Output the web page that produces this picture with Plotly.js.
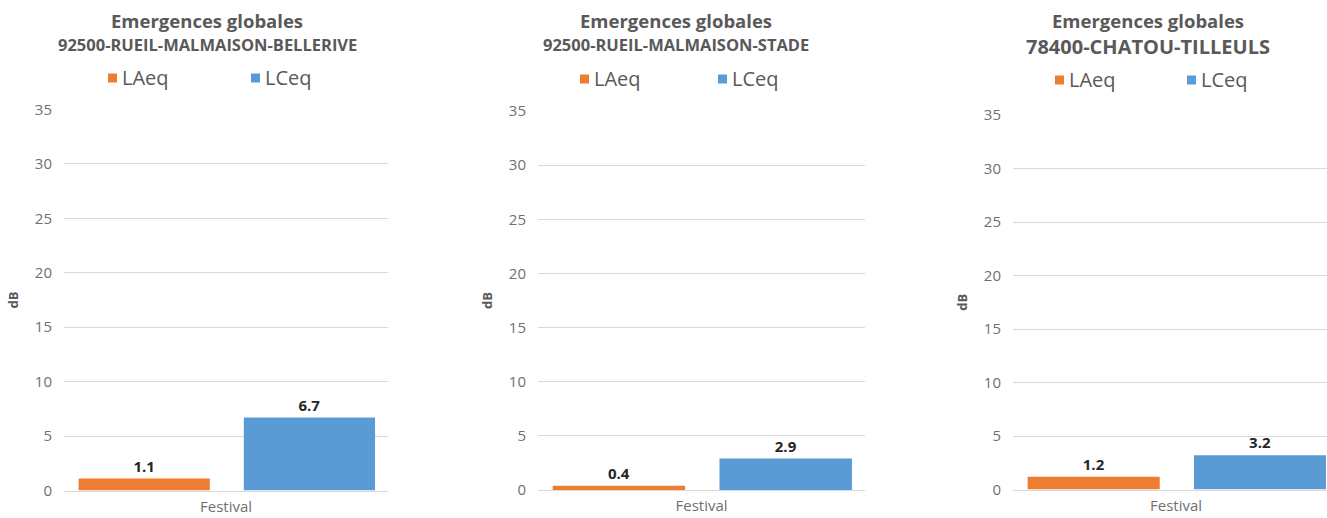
<!DOCTYPE html>
<html>
<head>
<meta charset="utf-8">
<script src="https://cdn.plot.ly/plotly-3.0.1.min.js"></script>
<style>
  html, body { margin: 0; padding: 0; background: #ffffff; overflow: hidden; }
  #chart { width: 1327px; height: 518px; }
</style>
</head>
<body>
<div id="chart"></div>
<script>
// Global emergences (dB) measured at three stations during the festival
const categories = ['Festival'];
const stations = [
  '92500-RUEIL-MALMAISON-BELLERIVE',
  '92500-RUEIL-MALMAISON-STADE',
  '78400-CHATOU-TILLEULS'
];
const chartTitle = 'Emergences globales';
const laeq = [1.1, 0.4, 1.2];
const lceq = [6.7, 2.9, 3.2];
const seriesNames = ['LAeq', 'LCeq'];
const yTicks = [0, 5, 10, 15, 20, 25, 30, 35];

const FONT = '"Open Sans", Lato, sans-serif';
const GREY = '#595959';
const TICK_GREY = '#707070';
const COLORS = ['#ED7D31', '#5B9BD5'];

const W = 1327, H = 518;
const px = v => v / W;
const py = v => 1 - v / H;

// panel geometry in pixels
const panels = [
  { x0: 64,   x1: 388,  yTop: 109.5, yBot: 490.5, xr: [-0.5, 0.5],
    cx: 207,  t1y: 20, t2y: 44, t1s: 18.5, t2s: 16.5,
    legY: 78, sq: [108, 251], tx: [120, 263] },
  { x0: 538,  x1: 865,  yTop: 111,   yBot: 490,   xr: [-0.5, 0.5],
    cx: 676,  t1y: 20, t2y: 44, t1s: 18.5, t2s: 16.5,
    legY: 79, sq: [580, 718], tx: [592, 730] },
  { x0: 1013, x1: 1327, yTop: 115,   yBot: 489.5, xr: [-0.5, 0.463],
    cx: 1148, t1y: 20, t2y: 46, t1s: 18.5, t2s: 20,
    legY: 80, sq: [1055, 1187], tx: [1067, 1199] }
];

const traces = [];
const layout = {
  width: W, height: H,
  margin: { l: 0, r: 0, t: 0, b: 0 },
  paper_bgcolor: '#ffffff',
  plot_bgcolor: '#ffffff',
  font: { family: FONT, color: GREY },
  barmode: 'group',
  showlegend: false,
  annotations: [],
  shapes: []
};

const SQ = 9; // legend swatch size in px

panels.forEach((p, i) => {
  const n = i === 0 ? '' : String(i + 1);
  const xa = 'x' + n, ya = 'y' + n;
  const values = [laeq[i], lceq[i]];
  const offsets = [-0.455, 0.055];

  values.forEach((v, k) => {
    traces.push({
      type: 'bar', name: seriesNames[k], x: categories, y: [v],
      xaxis: xa, yaxis: ya,
      marker: { color: COLORS[k] }, offset: offsets[k], width: 0.405,
      text: [v.toFixed(1)], textposition: 'outside', cliponaxis: false,
      textfont: { family: FONT, size: 15, color: '#262626', weight: 'bold' },
      hoverinfo: 'name+y'
    });

    // legend swatch + label
    layout.shapes.push({
      type: 'rect', xref: 'paper', yref: 'paper',
      x0: px(p.sq[k]), x1: px(p.sq[k] + SQ),
      y0: py(p.legY + SQ / 2), y1: py(p.legY - SQ / 2),
      fillcolor: COLORS[k], line: { width: 0 }
    });
    layout.annotations.push({
      xref: 'paper', yref: 'paper', x: px(p.tx[k]), y: py(p.legY - 1),
      xanchor: 'left', yanchor: 'middle', showarrow: false,
      text: seriesNames[k],
      font: { family: FONT, size: 20, color: GREY }
    });
  });

  layout['xaxis' + n] = {
    domain: [px(p.x0), px(p.x1)],
    range: p.xr,
    anchor: ya,
    type: 'category',
    showgrid: false, zeroline: false,
    showline: true, linecolor: '#D9D9D9', linewidth: 1,
    ticks: '', ticklabelstandoff: 2,
    tickfont: { family: FONT, size: 15, color: TICK_GREY },
    fixedrange: true
  };
  layout['yaxis' + n] = {
    domain: [py(p.yBot), py(p.yTop)],
    range: [0, 35],
    anchor: xa,
    tickvals: yTicks,
    showgrid: true, gridcolor: '#D9D9D9', gridwidth: 1,
    zeroline: false, showline: false,
    ticks: '', ticklabelstandoff: 11,
    tickfont: { family: FONT, size: 15, color: TICK_GREY },
    title: { text: 'dB', standoff: 13, font: { family: FONT, size: 13, color: GREY, weight: 'bold' } },
    fixedrange: true
  };

  layout.annotations.push({
    xref: 'paper', yref: 'paper', x: px(p.cx), y: py(p.t1y), xanchor: 'center', yanchor: 'middle',
    text: chartTitle, showarrow: false,
    font: { family: FONT, size: p.t1s, color: GREY, weight: 'bold' }
  });
  layout.annotations.push({
    xref: 'paper', yref: 'paper', x: px(p.cx), y: py(p.t2y), xanchor: 'center', yanchor: 'middle',
    text: stations[i], showarrow: false,
    font: { family: FONT, size: p.t2s, color: GREY, weight: 'bold' }
  });
});

Plotly.newPlot('chart', traces, layout, { displayModeBar: false });
</script>
</body>
</html>
